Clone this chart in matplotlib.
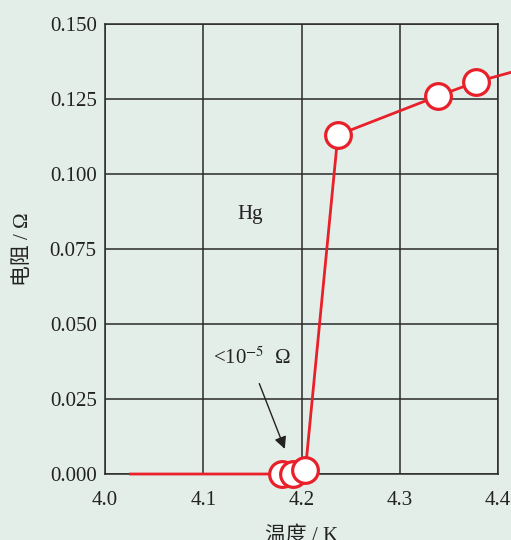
import numpy as np
import matplotlib.pyplot as plt

plt.rcParams['font.family'] = ['Liberation Serif', 'Noto Sans CJK SC']
plt.rcParams['mathtext.fontset'] = 'stix'

# datos
temperatura = [4.026, 4.180, 4.191, 4.204, 4.237, 4.339, 4.378, 4.42]
resistencia = [0.0, 0.0, 0.0, 0.0015, 0.113, 0.126, 0.1307, 0.1345]
con_marcador = [1, 2, 3, 4, 5, 6]

xticks = [4.0, 4.1, 4.2, 4.3, 4.4]
yticks = [0.000, 0.025, 0.050, 0.075, 0.100, 0.125, 0.150]

fondo = '#e3eee9'
rojo = '#e8202a'

fig = plt.figure(figsize=(5.11, 5.40), dpi=100, facecolor=fondo)
ax = fig.add_axes([0.2055, 0.1222, 0.9746 - 0.2055, 0.9556 - 0.1222])
ax.set_facecolor(fondo)

ax.plot(temperatura, resistencia, color=rojo, lw=2.0,
        marker='o', markevery=con_marcador, markersize=18.5,
        markerfacecolor='white', markeredgecolor=rojo, markeredgewidth=2.3,
        clip_on=False, zorder=5)

ax.set_xlim(4.0, 4.4)
ax.set_ylim(0, 0.150)
ax.set_xticks(xticks)
ax.set_yticks(yticks)
ax.set_xticklabels([f"{v:.1f}" for v in xticks])
ax.set_yticklabels([f"{v:.3f}" for v in yticks])
ax.tick_params(length=0, labelsize=15, colors='#222222', pad=6)
ax.tick_params(axis='x', pad=12)

ax.grid(True, color='#2a2a2a', lw=1.1)
ax.set_axisbelow(True)
for s in ax.spines.values():
    s.set_color('#2a2a2a')
    s.set_linewidth(1.1)

ax.set_xlabel('温度 / K', fontsize=15, color='#222222', labelpad=12)
ax.set_ylabel('电阻 / Ω', fontsize=15, color='#222222', labelpad=12)

ax.text(4.148, 0.0865, 'Hg', fontsize=15, ha='center', va='center', color='#222222')
ax.annotate(r'<10$^{-5}$  Ω', xy=(4.184, 0.0075), xytext=(4.150, 0.0385),
            fontsize=15, ha='center', va='center', color='#222222')
ax.annotate('', xy=(4.184, 0.0075), xytext=(4.156, 0.031),
            arrowprops=dict(arrowstyle='-|>', color='#222222', lw=1.0,
                            mutation_scale=18))

plt.savefig('out.png', dpi=100, facecolor=fondo)
